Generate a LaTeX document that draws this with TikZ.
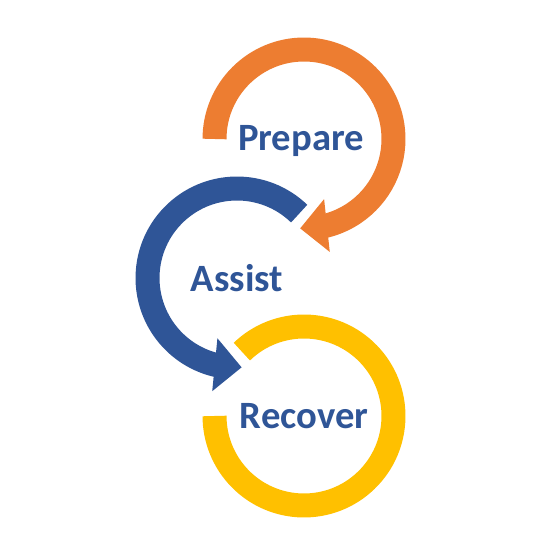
\documentclass[tikz,border=0pt]{standalone}
\usepackage{fontspec}
\setmainfont{Carlito}
\usepackage{xcolor}
\usetikzlibrary{arrows.meta,bending}

\definecolor{prepOrange}{HTML}{ED7D31}
\definecolor{assistBlue}{HTML}{2F5597}
\definecolor{recYellow}{HTML}{FFC000}

\begin{document}
\begin{tikzpicture}[x=0.02cm,y=0.02cm,
    ring/.style={line width=0.48cm},
    cycletip/.style={-{Triangle[length=0.54cm,width=1.03cm]}},
    lbl/.style={text=assistBlue,font=\fontsize{22}{26}\selectfont\bfseries}]
  \useasboundingbox (0,0) rectangle (540,540);
  % centres of the three rings
  \coordinate (prepC) at (304,401);
  \coordinate (assistC) at (237,262);
  \coordinate (recC) at (304,124);
  % Prepare: orange, clockwise, head into Assist
  \draw[ring,prepOrange,cycletip] (prepC) ++(180:1.79cm)
    arc[start angle=180,end angle=-92.5,radius=1.79cm];
  % Assist: blue, anticlockwise, head into Recover
  \draw[ring,assistBlue,cycletip] (assistC) ++(46:1.79cm)
    arc[start angle=46,end angle=273,radius=1.79cm];
  % Recover: yellow, no head
  \draw[ring,recYellow] (recC) ++(134:1.79cm)
    arc[start angle=134,end angle=-180,radius=1.79cm];
  % labels
  \node[lbl] (prep) at ([xshift=-0.06cm,yshift=-0.04cm]prepC) {Prepare};
  \node[lbl] (assist) at (assistC) {Assist};
  \node[lbl] (rec) at (recC) {Recover};
\end{tikzpicture}
\end{document}
